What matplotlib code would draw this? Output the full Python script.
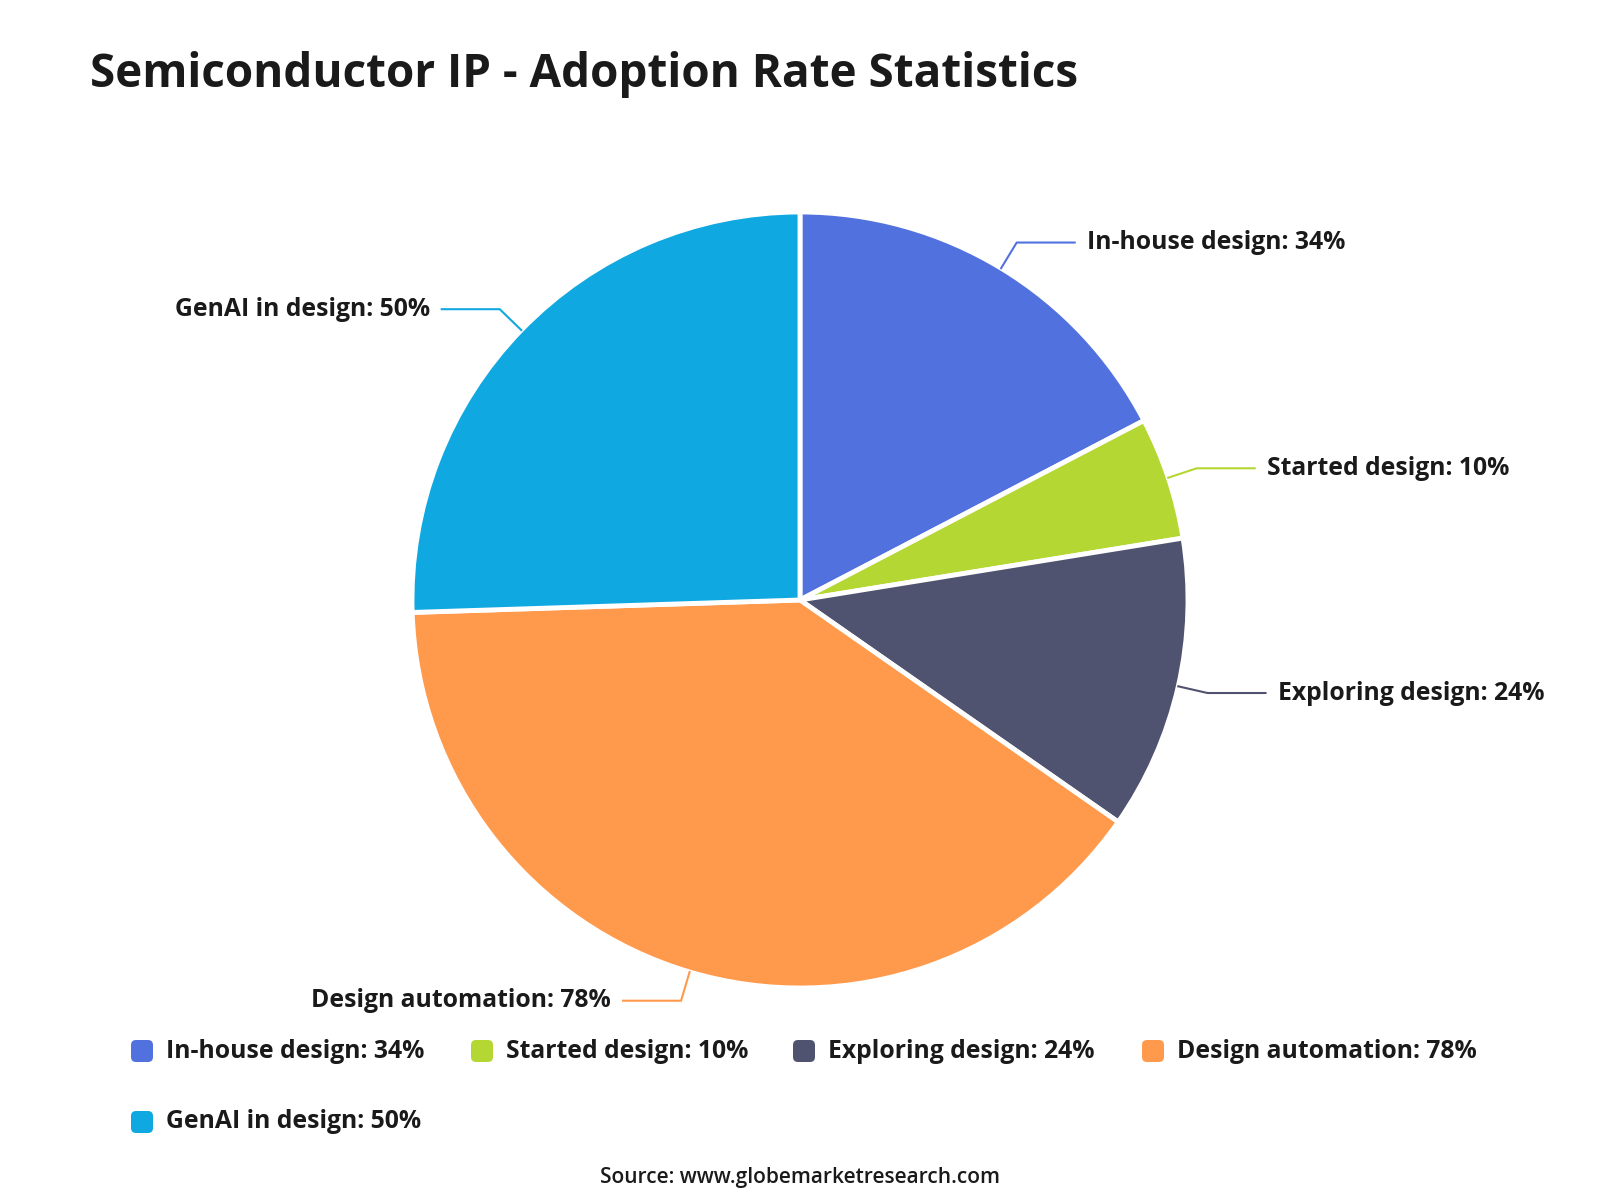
import matplotlib
matplotlib.use("Agg")
import matplotlib.pyplot as plt
from matplotlib.patches import FancyBboxPatch
import numpy as np

plt.rcParams['font.family'] = ['Open Sans', 'DejaVu Sans']

# data
labels = ["In-house design", "Started design", "Exploring design", "Design automation", "GenAI in design"]
values = [34, 10, 24, 78, 50]
colors = ["#5172DE", "#B5D733", "#50536F", "#FF9A4D", "#10A8E0"]

title = "Semiconductor IP - Adoption Rate Statistics"
source = "Source: www.globemarketresearch.com"

W, H = 1600, 1200
fig = plt.figure(figsize=(16, 12), dpi=100)
ax = fig.add_axes([0, 0, 1, 1])

def py(y):
    # pixel y (from top) to data y
    return H - y

cx, cy, r = 800, 600, 388

wedges, _ = ax.pie(values, colors=colors, startangle=90, counterclock=False,
                   center=(cx, py(cy)), radius=r,
                   wedgeprops=dict(edgecolor="white", linewidth=3.5))

ax.set_xlim(0, W)
ax.set_ylim(0, H)
ax.set_aspect("equal")
ax.axis("off")

# outside labels with leader lines
for w, lab, val, col in zip(wedges, labels, values, colors):
    mid = np.deg2rad((w.theta1 + w.theta2) / 2)
    x0 = cx + r * np.cos(mid)
    y0 = py(cy) + r * np.sin(mid)
    x1 = cx + (r + 30) * np.cos(mid)
    y1 = py(cy) + (r + 30) * np.sin(mid)
    side = 1 if np.cos(mid) >= 0 else -1
    x2 = x1 + side * 58
    ax.plot([x0, x1, x2], [y0, y1, y1], color=col, lw=1.5, solid_joinstyle="miter")
    ax.text(x2 + side * 12, y1, f"{lab}: {val}%", ha="left" if side > 0 else "right",
            va="center", fontsize=17.8, fontweight="bold", color="#1a1a1a")

# title
ax.text(90, py(75), title, fontsize=33, fontweight="bold", color="#1a1a1a",
        ha="left", va="center")

# legend (4 per row)
col_x = [131, 471, 793, 1142]
row_y = [1051, 1122]
for i, (lab, val, col) in enumerate(zip(labels, values, colors)):
    lx = col_x[i % 4]
    ly = row_y[i // 4]
    box = FancyBboxPatch((lx, py(ly) - 11), 22, 22, boxstyle="round,pad=0,rounding_size=5",
                         facecolor=col, edgecolor="none")
    ax.add_patch(box)
    ax.text(lx + 35, py(ly), f"{lab}: {val}%", fontsize=17.8, fontweight="bold",
            color="#1a1a1a", ha="left", va="center")

ax.text(W / 2, py(1177), source, fontsize=15, fontweight="semibold", color="#1a1a1a",
        ha="center", va="center")

fig.savefig("out.png", dpi=100, facecolor="white")
